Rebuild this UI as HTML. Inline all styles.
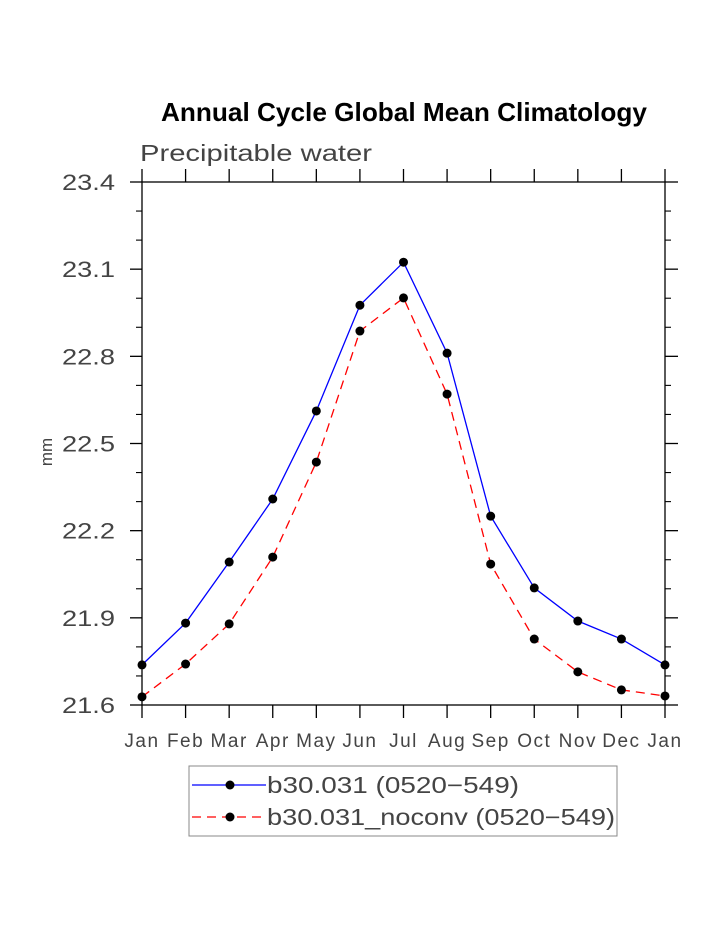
<!DOCTYPE html>
<html><head><meta charset="utf-8"><style>
body{margin:0;background:#fff}
svg text{font-family:"Liberation Sans",sans-serif}
</style></head><body>
<svg width="723" height="935" viewBox="0 0 723 935">
<text x="161" y="121" textLength="486" lengthAdjust="spacingAndGlyphs" font-size="26" font-weight="bold" fill="#000">Annual Cycle Global Mean Climatology</text>
<text x="140" y="161" textLength="232" lengthAdjust="spacingAndGlyphs" font-size="23" fill="#444">Precipitable water</text>
<text transform="translate(52,452) rotate(-90)" text-anchor="middle" font-size="17" fill="#444">mm</text>
<g id="axes"></g>
<g id="series"></g>
<g>
<rect x="189" y="766" width="428" height="70" fill="none" stroke="#888" stroke-width="1"/>
<g>
<line x1="192" y1="785" x2="266" y2="785" stroke="#00f" stroke-width="1.3"/>
<circle cx="230" cy="785" r="4.5" fill="#000"/>
<text x="267" y="793" textLength="252" lengthAdjust="spacingAndGlyphs" font-size="23" fill="#444">b30.031 (0520−549)</text>
</g>
<g>
<line x1="192" y1="817" x2="266" y2="817" stroke="#f00" stroke-width="1.3" stroke-dasharray="9,6"/>
<circle cx="230" cy="817" r="4.5" fill="#000"/>
<text x="267" y="825" textLength="348" lengthAdjust="spacingAndGlyphs" font-size="23" fill="#444">b30.031_noconv (0520−549)</text>
</g>
</g>
</svg>
<script>
const months=["Jan","Feb","Mar","Apr","May","Jun","Jul","Aug","Sep","Oct","Nov","Dec","Jan"];
const yTicks=[21.6,21.9,22.2,22.5,22.8,23.1,23.4];
const seriesA=[21.738,21.882,22.092,22.309,22.612,22.976,23.124,22.811,22.250,22.003,21.889,21.827,21.738];
const seriesB=[21.628,21.741,21.879,22.109,22.436,22.887,23.001,22.670,22.085,21.827,21.714,21.652,21.631];
const X0=142,X1=665,Y0=705,Y1=182,ymin=21.6,ymax=23.4;
const NS="http://www.w3.org/2000/svg";
function xs(i){return X0+(X1-X0)*i/(months.length-1);}
function ys(v){return Y0-(v-ymin)/(ymax-ymin)*(Y0-Y1);}
function mk(tag,at,parent){const e=document.createElementNS(NS,tag);for(const k in at)e.setAttribute(k,at[k]);parent.appendChild(e);return e;}
const ax=document.getElementById('axes');
const frame=mk('rect',{x:X0,y:Y1,width:X1-X0,height:Y0-Y1,fill:'none',stroke:'#000','stroke-width':1.3},ax);


months.forEach((m,i)=>{
  const x=xs(i);
  mk('line',{x1:x,y1:Y0,x2:x,y2:Y0+13,stroke:'#000','stroke-width':1.3},ax);
  mk('line',{x1:x,y1:Y1,x2:x,y2:Y1-13,stroke:'#000','stroke-width':1.3},ax);
  const t=mk('text',{x:x,y:747,'text-anchor':'middle','font-size':19,'letter-spacing':1.5,fill:'#444'},ax);
  t.textContent=m;
  
  
});
yTicks.forEach((v,i)=>{
  const y=ys(v);
  mk('line',{x1:X0,y1:y,x2:X0-12,y2:y,stroke:'#000','stroke-width':1.3},ax);
  mk('line',{x1:X1,y1:y,x2:X1+13,y2:y,stroke:'#000','stroke-width':1.3},ax);
  if(i<yTicks.length-1){for(let k=1;k<3;k++){const ym=ys(v+0.1*k);
    mk('line',{x1:X0,y1:ym,x2:X0-6,y2:ym,stroke:'#000','stroke-width':1.1},ax);
    mk('line',{x1:X1,y1:ym,x2:X1+6,y2:ym,stroke:'#000','stroke-width':1.1},ax);}}
  const t=mk('text',{x:62,y:y+8,textLength:53,lengthAdjust:'spacingAndGlyphs','font-size':22,fill:'#444'},ax);
  t.textContent=v.toFixed(1);
  
  
});
const sg=document.getElementById('series');
function draw(vals,color,dash,name){
  const g=mk('g',{},sg);
  
  
  const p=mk('polyline',{points:vals.map((v,i)=>xs(i)+','+ys(v)).join(' '),fill:'none',stroke:color,'stroke-width':1.3,'stroke-dasharray':dash},g);
  
  
  vals.forEach((v,i)=>{const c=mk('circle',{cx:xs(i),cy:ys(v),r:4.5,fill:'#000'},g);
    
    });
}
draw(seriesA,'#00f','none','series-b30');
draw(seriesB,'#f00','9,6','series-noconv');
</script>
</body></html>
